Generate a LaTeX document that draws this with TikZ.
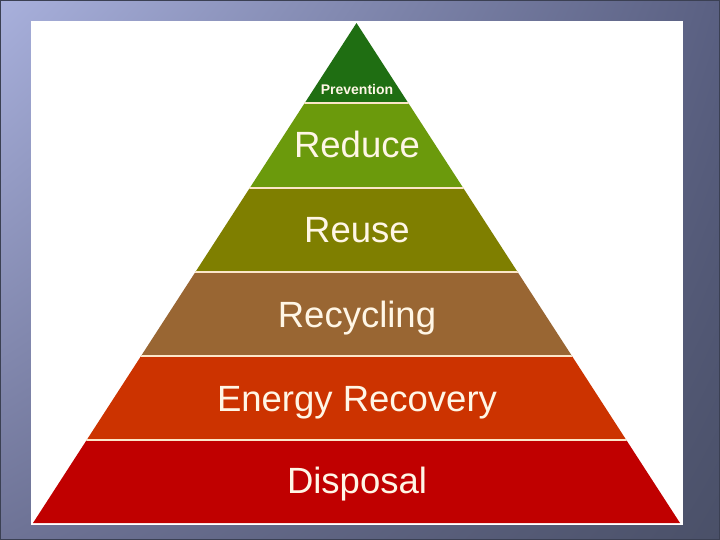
\documentclass[tikz,border=0pt]{standalone}
\usepackage{fontspec}
\setmainfont{Liberation Sans}
\usepackage{tikz}
\usetikzlibrary{positioning,calc,shadings}
\usepackage{xcolor}
\definecolor{bgLight}{HTML}{A8B0DC}
\definecolor{bgMid}{HTML}{6E7396}
\definecolor{bgDark}{HTML}{4A5068}
\definecolor{bgRight}{HTML}{5A6082}
\definecolor{prevGreen}{HTML}{1F6E12}
\definecolor{reduceGreen}{HTML}{6B9A0C}
\definecolor{reuseOlive}{HTML}{7F7F00}
\definecolor{recycBrown}{HTML}{996633}
\definecolor{energyRed}{HTML}{CC3300}
\definecolor{dispRed}{HTML}{C00000}
\definecolor{labelCream}{HTML}{FFF6E6}
\definecolor{sepCream}{HTML}{FCE6C8}
\tikzset{
  band/.style    = {draw=none},
  seam/.style    = {draw=sepCream, line width=1.4pt},
  levellbl/.style = {anchor=base, text=labelCream, font=\fontsize{36.5}{36.5}\selectfont, inner sep=0pt},
  toplbl/.style  = {anchor=base, text=labelCream, font=\fontsize{14}{14}\selectfont\bfseries, inner sep=0pt},
}

\begin{document}
\begin{tikzpicture}[x=1pt, y=-1pt]
\useasboundingbox (0,0) rectangle (720,540);
% ---- slide background ----
\shade[upper left=bgLight, upper right=bgRight, lower left=bgMid, lower right=bgDark]
  (0,0) rectangle (720,540);
\draw[bgDark!80!black, line width=1.2pt] (0.6,0.6) rectangle (719.4,539.4);
\fill[white] (31,21) rectangle (683,525);
% ---- pyramid ----
\coordinate (apex) at (356.5,23);
\coordinate (bl) at (33,523);
\coordinate (br) at (680,523);
\begin{scope}
\clip (apex) -- (bl) -- (br) -- cycle;
\fill[band, prevGreen]   (30,20)  rectangle (690,103);
\fill[band, reduceGreen] (30,103) rectangle (690,188);
\fill[band, reuseOlive]  (30,188) rectangle (690,272);
\fill[band, recycBrown]  (30,272) rectangle (690,356);
\fill[band, energyRed]   (30,356) rectangle (690,440);
\fill[band, dispRed]     (30,440) rectangle (690,530);
\draw[seam] (30,103) -- (690,103);
\draw[seam] (30,188) -- (690,188);
\draw[seam] (30,272) -- (690,272);
\draw[seam] (30,356) -- (690,356);
\draw[seam] (30,440) -- (690,440);
\end{scope}
% ---- labels ----
\node[toplbl]   (prevention) at (357,95)  {Prevention};
\node[levellbl] (reduce)     at (357,158) {Reduce};
\node[levellbl] (reuse)      at (357,243) {Reuse};
\node[levellbl] (recycling)  at (357,327) {Recycling};
\node[levellbl] (energy)     at (357,411) {Energy Recovery};
\node[levellbl] (disposal)   at (357,493) {Disposal};
\end{tikzpicture}
\end{document}
